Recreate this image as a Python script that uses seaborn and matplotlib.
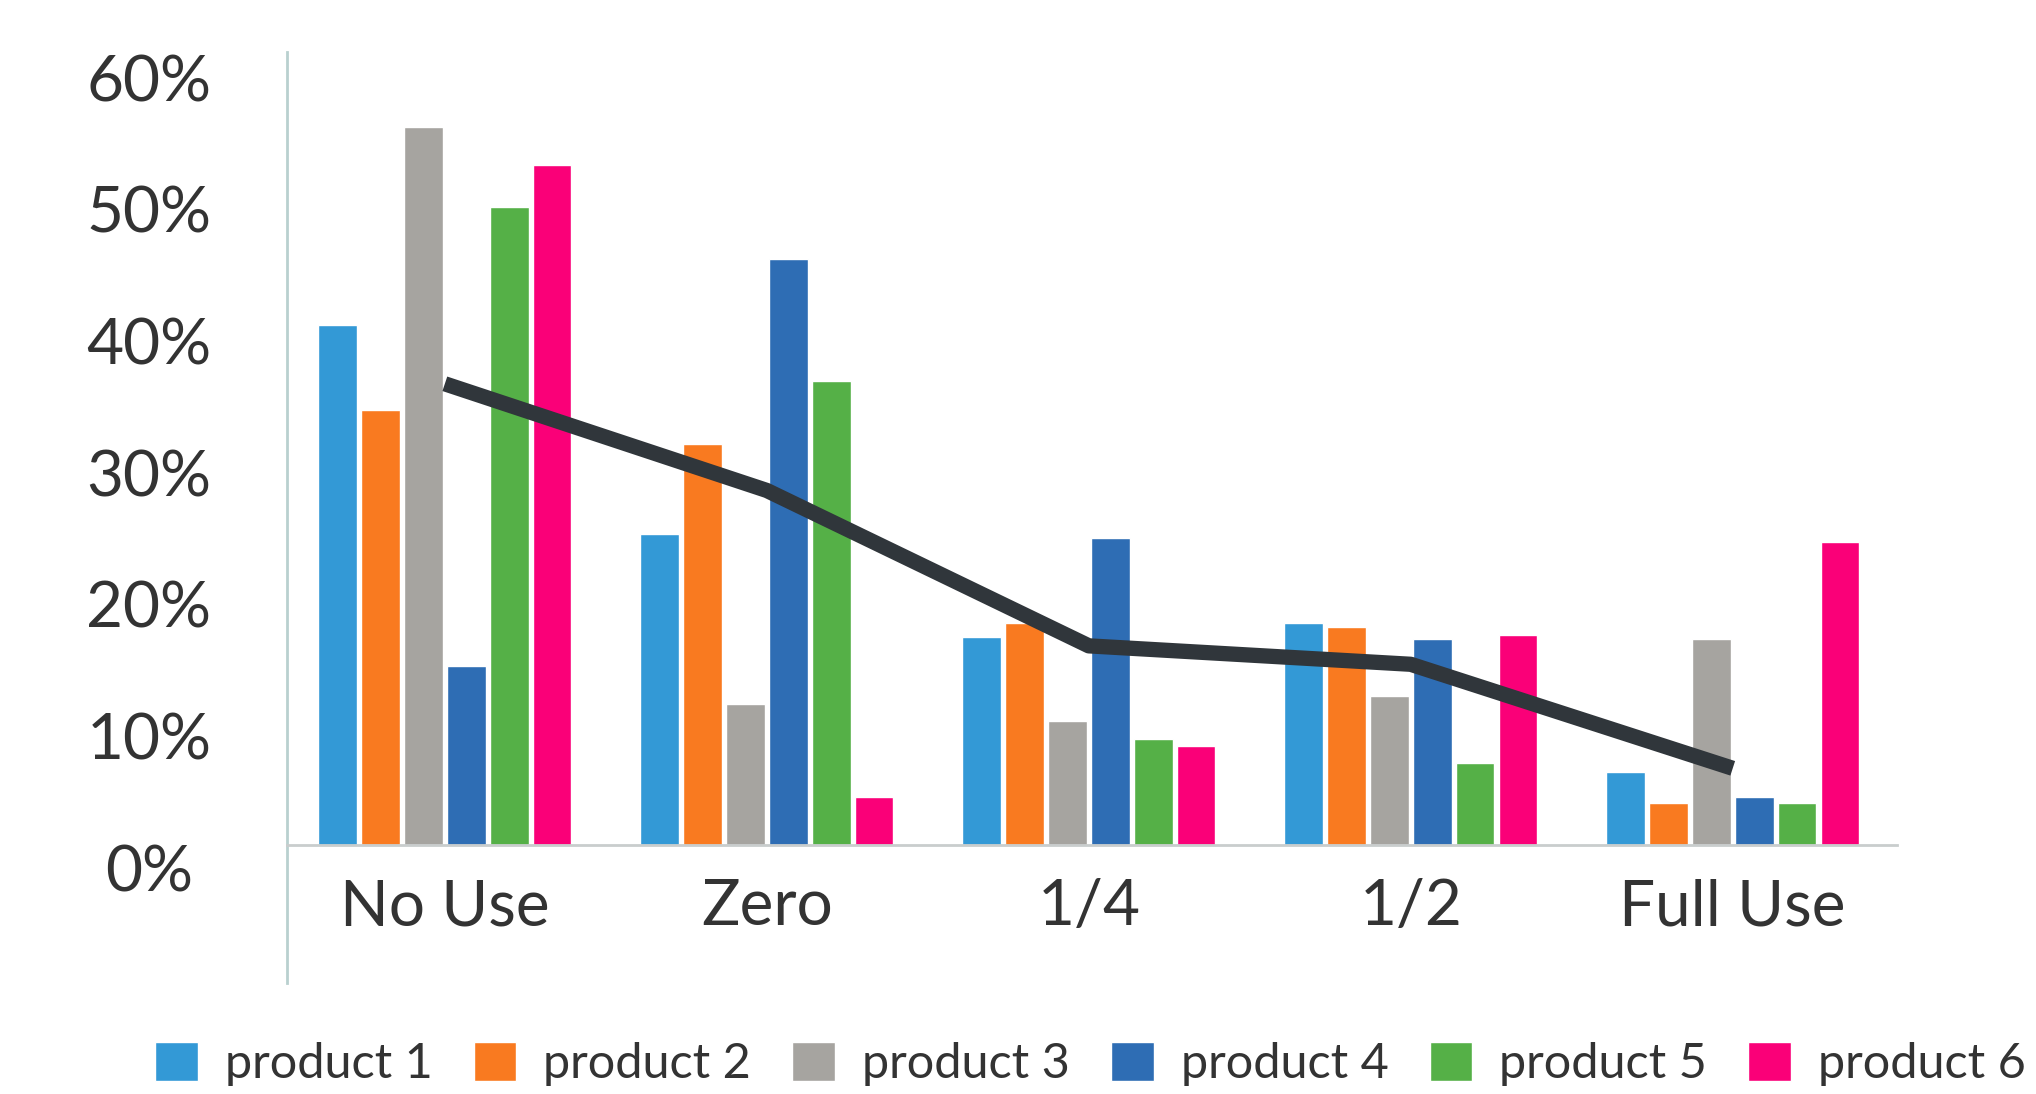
import numpy as np
import pandas as pd
import matplotlib
matplotlib.use("Agg")
import matplotlib.pyplot as plt
import matplotlib.transforms as mtransforms
import seaborn as sns

# %% Data (in %)

categories = ["No Use", "Zero", "1/4", "1/2", "Full Use"]
products = ["product 1", "product 2", "product 3", "product 4", "product 5", "product 6"]

product_1 = [39.5, 23.6, 15.8, 16.8, 5.5]
product_2 = [33.0, 30.4, 16.8, 16.5, 3.2]
product_3 = [54.5, 10.7, 9.4, 11.3, 15.6]
product_4 = [13.6, 44.5, 23.3, 15.6, 3.6]
product_5 = [48.4, 35.2, 8.0, 6.2, 3.2]
product_6 = [51.6, 3.6, 7.5, 15.9, 23.0]

trend = [35.0, 26.9, 15.1, 13.7, 5.8]

yticks = [0, 10, 20, 30, 40, 50, 60]

colours = ["#3399d6", "#f97a20", "#a6a4a0", "#2e6db4", "#55b047", "#fa0078"]

# %% Set-up

sns.set_theme(style="white")
plt.rcParams['font.family'] = ['Lato', 'DejaVu Sans']

values = [product_1, product_2, product_3, product_4, product_5, product_6]
df = pd.DataFrame({'usage': np.tile(categories, len(products)),
                   'product': np.repeat(products, len(categories)),
                   'share': np.concatenate(values)})

# %% Plot

fig = plt.figure(figsize=(20.36, 10.94), dpi=100)
ax = fig.add_axes([0.141, 0.1015, 0.7907, 0.851])

#Grouped bars
sns.barplot(data=df, x='usage', y='share', hue='product',
            order=categories, hue_order=products, palette=colours,
            width=0.8, gap=0.1, saturation=1, ax=ax)

#Trend line over the group centres
sns.lineplot(x=np.arange(len(categories)), y=trend, color='#30363b',
             linewidth=11, solid_capstyle='butt', zorder=5, ax=ax)

#Axes limits
ax.set_xlim(-0.49, 4.51)
ax.set_ylim(-10.5, 60.2)

#Spines
sns.despine(ax=ax, top=True, right=True)
ax.spines['bottom'].set_position(('data', 0))
ax.spines['bottom'].set_color('#c9cdcd')
ax.spines['bottom'].set_linewidth(2)
ax.spines['left'].set_color('#b9d0cf')
ax.spines['left'].set_linewidth(2)

#Ticks
ax.set_yticks(yticks)
ax.set_yticklabels([f'{t}%' for t in yticks])
ax.tick_params(axis='y', length=5, width=1.5, color='#b9d0cf',
               direction='inout', labelsize=46, labelcolor='#333333', pad=97)
ax.tick_params(axis='x', length=0, labelsize=46, labelcolor='#333333', pad=24)
offset = mtransforms.ScaledTranslation(0, -0.23, fig.dpi_scale_trans)
for lab in ax.get_yticklabels():
    lab.set_ha('center')
    lab.set_transform(lab.get_transform() + offset)

ax.set_xlabel('')
ax.set_ylabel('')

#Legend along the bottom
sns.move_legend(ax, 'center left', bbox_to_anchor=(155 / 2036, 0.0274),
                bbox_transform=fig.transFigure, ncol=6, frameon=False,
                title=None, fontsize=35, labelcolor='#333333',
                handlelength=0.88, handleheight=0.88, handletextpad=0.55,
                columnspacing=0.85, borderpad=0, borderaxespad=0)

fig.savefig('out.png', dpi=100, facecolor='white')
